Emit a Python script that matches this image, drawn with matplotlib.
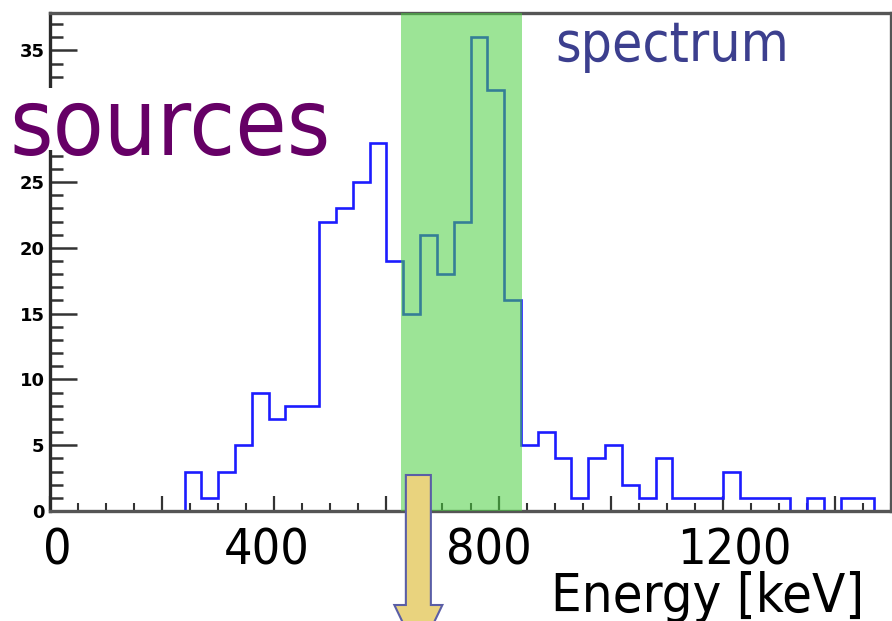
import matplotlib
matplotlib.use("Agg")
import matplotlib.pyplot as plt
from matplotlib import font_manager
from matplotlib.patches import Polygon, Rectangle
from matplotlib.transforms import blended_transform_factory, ScaledTranslation

# ---- data: energy histogram, 30 keV bins from 0 to 1500 keV ----
bin_edges_kev = list(range(0, 1501, 30))
counts = [0, 0, 0, 0, 0, 0, 0, 0,
          3, 1, 3, 5, 9, 7, 8, 8, 22, 23, 25, 28,
          19, 15, 21, 18, 22, 36, 32, 16,
          5, 6, 4, 1, 4, 5, 2, 1, 4, 1, 1, 1,
          3, 1, 1, 1, 0, 1, 0, 1, 1, 0]

# selected energy window
window_kev = (626, 842)
arrow_center_kev = 657

x_ticks = [0, 200, 400, 600, 800, 1000, 1200, 1400]
x_tick_labels = ["0", "", "400", "", "800", "", "1200", ""]
x_label_shift_px = [7, 0, -8, 0, -10, 0, 12, 0]
y_ticks = [0, 5, 10, 15, 20, 25, 30, 35]
y_tick_labels = ["0", "5", "10", "15", "20", "25", "", "35"]

# ---- fonts ----
has_condensed = any(f.name == "DejaVu Sans" and str(f.stretch) == "condensed"
                    for f in font_manager.fontManager.ttflist)
stretch = "condensed" if has_condensed else "normal"
k = 1.0 if has_condensed else 0.92

W, H = 892, 621
fig = plt.figure(figsize=(W / 100, H / 100), dpi=100)
fig.patch.set_facecolor("white")
ax = fig.add_axes([50 / W, (H - 511) / H, 841 / W, (511 - 13) / H])

ax.stairs(counts, bin_edges_kev, color="#1c1cff", lw=1.9, baseline=0, zorder=2)
ax.axvspan(*window_kev, color=(75 / 255, 207 / 255, 65 / 255), alpha=0.55,
           lw=0, zorder=3)

ax.set_xlim(0, 1500)
ax.set_ylim(0, 37.85)

for side, sp in ax.spines.items():
    sp.set_linewidth(2.4)
    sp.set_color("#555555")
ax.spines["left"].set_color("#2a2a2a")

ax.set_xticks(x_ticks)
ax.set_xticks(range(0, 1501, 50), minor=True)
ax.set_xticklabels(x_tick_labels, fontsize=36 * k, fontstretch=stretch,
                   family="DejaVu Sans")
ax.set_yticks(y_ticks)
ax.set_yticks(range(0, 38), minor=True)
ax.set_yticklabels(y_tick_labels, fontsize=13, fontweight="bold")

ax.tick_params(axis="x", which="major", direction="in", length=11, width=1.6,
               color="#333333", pad=11)
ax.tick_params(axis="x", which="minor", direction="in", length=6, width=1.5,
               color="#333333")
ax.tick_params(axis="y", which="major", direction="in", length=19.5, width=1.8,
               color="#333333", pad=4)
ax.tick_params(axis="y", which="minor", direction="in", length=9.5, width=1.8,
               color="#333333")

for lbl, dx in zip(ax.get_xticklabels(), x_label_shift_px):
    lbl.set_transform(lbl.get_transform()
                      + ScaledTranslation(dx / 100, 0, fig.dpi_scale_trans))

# white panel behind the "sources" caption
fig.add_artist(Rectangle((0, 1 - 150 / H), 335 / W, 62 / H,
                         transform=fig.transFigure, fc="white", ec="none",
                         zorder=5))
fig.text(9 / W, 1 - 155 / H, "sources", color="#660066", fontsize=67 * k,
         fontstretch=stretch, ha="left", va="baseline", zorder=6)
fig.text(555 / W, 1 - 61 / H, "spectrum", color="#3c3f8e", fontsize=39.5 * k,
         fontstretch=stretch, ha="left", va="baseline", zorder=6)
fig.text(864 / W, 1 - 612 / H, "Energy [keV]", color="black",
         fontsize=39 * k, fontstretch=stretch, ha="right", va="baseline",
         zorder=6)

# block arrow pointing down from the selected window
px = 841 / 1500.0  # pixels per keV
sw = 12.5 / px
hw = 24.0 / px
y_top, y_head, y_tip = 1 - 475 / H, 1 - 605 / H, 1 - 655 / H
c = arrow_center_kev
arrow = Polygon([(c - sw, y_top), (c + sw, y_top), (c + sw, y_head),
                 (c + hw, y_head), (c, y_tip), (c - hw, y_head),
                 (c - sw, y_head)], closed=True,
                transform=blended_transform_factory(ax.transData, fig.transFigure),
                fc="#e9d37e", ec="#5a5ea6", lw=1.5, clip_on=False, zorder=10)
ax.add_patch(arrow)

fig.savefig("out.png", dpi=100, facecolor="white")
